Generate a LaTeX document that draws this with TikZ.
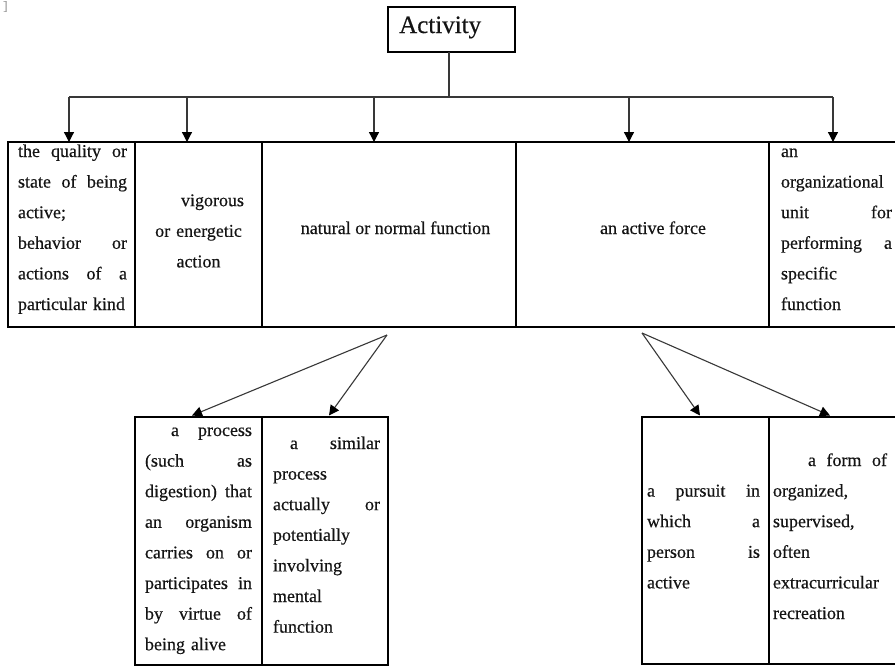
\documentclass[tikz,border=0pt]{standalone}
\usepackage{fontspec}
\setmainfont{Liberation Serif}[RawFeature={embolden=0.4}]
\usetikzlibrary{arrows.meta}
\newlength\cw
\newcommand\jl[1]{\makebox[\cw][s]{\spaceskip=0pt\xspaceskip=0pt\relax #1}}
\newcommand\jli[2]{\hspace*{#1}\makebox[\dimexpr\cw-#1\relax][s]{\spaceskip=0pt\xspaceskip=0pt\relax #2}}
\newcommand\sst{\rule{0pt}{14pt}}
\begin{document}
\begin{tikzpicture}[x=1pt,y=-1pt,
  cellbox/.style={draw=black, line width=1.3pt, inner sep=0pt, outer sep=0pt, anchor=north west},
  celltext/.style={anchor=north west, inner sep=0pt, outer sep=0pt, text width=#1, align=left,
     font=\fontsize{18}{30.6}\selectfont, text=black!92, execute at begin node={\setlength{\cw}{#1}}},
  onetext/.style={anchor=base, inner sep=0pt, font=\fontsize{18}{30.6}\selectfont, text=black!92},
  conn/.style={draw=black!78, line width=1.3pt},
  arr/.style={conn, -{Triangle[length=10pt,width=10pt,color=black]}, shorten >=0pt}]
\useasboundingbox (0,0) rectangle (895,672);
\clip (0,0) rectangle (895,672);
\fill[white] (0,0) rectangle (895,672);

% scan mark
\node[anchor=north west, inner sep=0pt, font=\fontsize{13}{13}\selectfont, text=black!40] (mark) at (3,1) {]};

% root
\node[cellbox, minimum width=127pt, minimum height=45pt, line width=1.1pt] (act) at (388,7) {};
\node[anchor=base west, inner sep=0pt, font=\fontsize{25}{25}\selectfont, text=black!92] (acttxt) at (399,33) {Activity};

% top table cells
\node[cellbox, minimum width=127pt, minimum height=185pt] (c1) at (8,142) {};
\node[cellbox, minimum width=127pt, minimum height=185pt] (c2) at (135,142) {};
\node[cellbox, minimum width=254pt, minimum height=185pt] (c3) at (262,142) {};
\node[cellbox, minimum width=253pt, minimum height=185pt] (c4) at (516,142) {};
\node[cellbox, minimum width=130pt, minimum height=185pt] (c5) at (769,142) {};

% bottom tables
\node[cellbox, minimum width=127pt, minimum height=248pt] (d1) at (135,417) {};
\node[cellbox, minimum width=126pt, minimum height=248pt] (d2) at (262,417) {};
\node[cellbox, minimum width=127pt, minimum height=247pt] (e1) at (642,417) {};
\node[cellbox, minimum width=130pt, minimum height=247pt] (e2) at (769,417) {};

% texts top
\node[celltext=109pt] (t1) at (18,143) {\sst\jl{the quality or}\\
\jl{state of being}\\
active;\\
\jl{behavior or}\\
\jl{actions of a}\\
particular kind};
\node[anchor=north, inner sep=0pt, text width=127pt, align=center,
      font=\fontsize{18}{30.6}\selectfont, text=black!92] (t2) at (198.5,192)
  {\sst\hspace*{28pt}vigorous\\ or energetic\\ action};
\node[onetext] (t3) at (395.5,234) {natural or normal function};
\node[onetext] (t4) at (653,234) {an active force};
\node[celltext=111pt] (t5) at (781,143) {\sst an\\
organizational\\
\jl{unit for}\\
\jl{performing a}\\
specific\\
function};

% texts bottom left
\node[celltext=107pt] (u1) at (145,422) {\sst\jli{26pt}{a process}\\
\jl{(such as}\\
\jl{digestion) that}\\
\jl{an organism}\\
\jl{carries on or}\\
\jl{participates in}\\
\jl{by virtue of}\\
being alive};
\node[celltext=107pt] (u2) at (273,435) {\sst\jli{17pt}{a similar}\\
process\\
\jl{actually or}\\
potentially\\
involving\\
mental\\
function};

% texts bottom right
\node[celltext=113pt] (v1) at (647,482.6) {\sst\jl{a pursuit in}\\
\jl{which a}\\
\jl{person is}\\
active};
\node[celltext=114pt] (v2) at (773,452) {\sst\jli{35pt}{a form of}\\
organized,\\
supervised,\\
often\\
extracurricular\\
recreation};

% connectors top
\coordinate (bus) at (449,97);
\coordinate (a1) at (69,97);
\coordinate (a2) at (187,97);
\coordinate (a3) at (374,97);
\coordinate (a4) at (629,97);
\coordinate (a5) at (833,97);
\draw[conn] (act.south -| bus) -- (bus);
\draw[conn] (a1) -- (a5);
\draw[arr] (a1) -- (c1.north -| a1);
\draw[arr] (a2) -- (c2.north -| a2);
\draw[arr] (a3) -- (c3.north -| a3);
\draw[arr] (a4) -- (c4.north -| a4);
\draw[arr] (a5) -- (c5.north -| a5);

% connectors bottom
\coordinate (p1) at (387,335);
\coordinate (p2) at (642,333);
\coordinate (q1) at (192,415.5);
\coordinate (q2) at (329,415.5);
\coordinate (q3) at (700,415.5);
\coordinate (q4) at (830,415.5);
\draw[arr, line width=1.1pt] (p1) -- (q1);
\draw[arr, line width=1.1pt] (p1) -- (q2);
\draw[arr, line width=1.1pt] (p2) -- (q3);
\draw[arr, line width=1.1pt] (p2) -- (q4);
\end{tikzpicture}
\end{document}
